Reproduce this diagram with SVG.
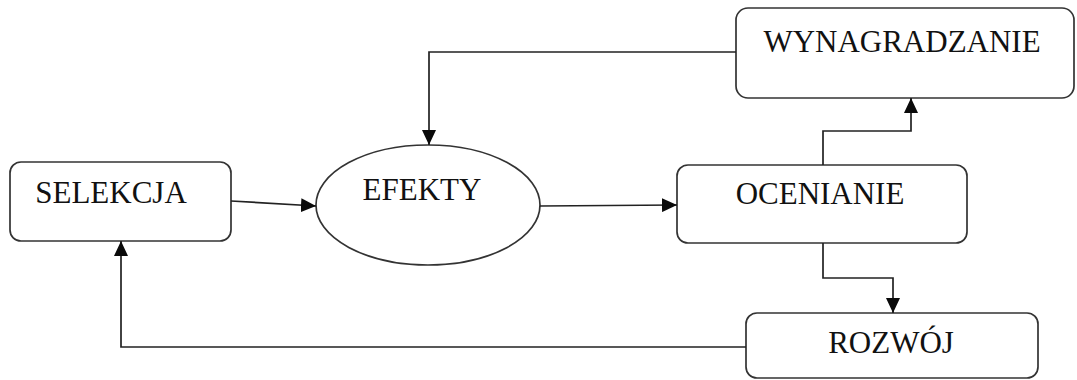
<svg xmlns="http://www.w3.org/2000/svg" width="1077" height="380" viewBox="0 0 1077 380">
  <style>
    .box { fill: #ffffff; stroke: #333333; stroke-width: 1.7; }
    .label { font-family: "Liberation Serif", "Times New Roman", serif; font-size: 31px; fill: #111111; text-anchor: middle; }
    .link { fill: none; stroke: #222222; stroke-width: 1.7; }
  </style>
  <defs>
    <marker id="arrow" markerUnits="userSpaceOnUse" markerWidth="16" markerHeight="14" refX="15" refY="7" orient="auto">
      <path d="M0,0 L15,7 L0,14 Z" fill="#0a0a0a"/>
    </marker>
  </defs>
  <rect width="1077" height="380" fill="#ffffff"/>

  <g id="selekcja">
    <rect class="box" x="10" y="162" width="221" height="79" rx="11"/>
    <text class="label" x="111" y="203">SELEKCJA</text>
  </g>

  <g id="efekty">
    <ellipse class="box" cx="428" cy="205" rx="112" ry="60"/>
    <text class="label" x="422" y="200">EFEKTY</text>
  </g>

  <g id="ocenianie">
    <rect class="box" x="677" y="165" width="290" height="78" rx="11"/>
    <text class="label" x="820" y="204">OCENIANIE</text>
  </g>

  <g id="wynagradzanie">
    <rect class="box" x="736" y="8" width="338" height="90" rx="12"/>
    <text class="label" x="902" y="52">WYNAGRADZANIE</text>
  </g>

  <g id="rozwoj">
    <rect class="box" x="746" y="313" width="292" height="65" rx="11"/>
    <text class="label" x="891" y="353">ROZWÓJ</text>
  </g>

  <g id="connectors">
    <!-- selekcja -> efekty -->
    <path class="link" d="M231,201 L316,206" marker-end="url(#arrow)"/>
    <!-- efekty -> ocenianie -->
    <path class="link" d="M540,206 L677,205" marker-end="url(#arrow)"/>
    <!-- ocenianie -> wynagradzanie -->
    <path class="link" d="M823,165 L823,131 L911,131 L911,98" marker-end="url(#arrow)"/>
    <!-- wynagradzanie -> efekty -->
    <path class="link" d="M736,52 L429,52 L429,145" marker-end="url(#arrow)"/>
    <!-- ocenianie -> rozwoj -->
    <path class="link" d="M823,243 L823,278 L893,278 L893,313" marker-end="url(#arrow)"/>
    <!-- rozwoj -> selekcja -->
    <path class="link" d="M746,347 L121,347 L121,241" marker-end="url(#arrow)"/>
  </g>
</svg>
